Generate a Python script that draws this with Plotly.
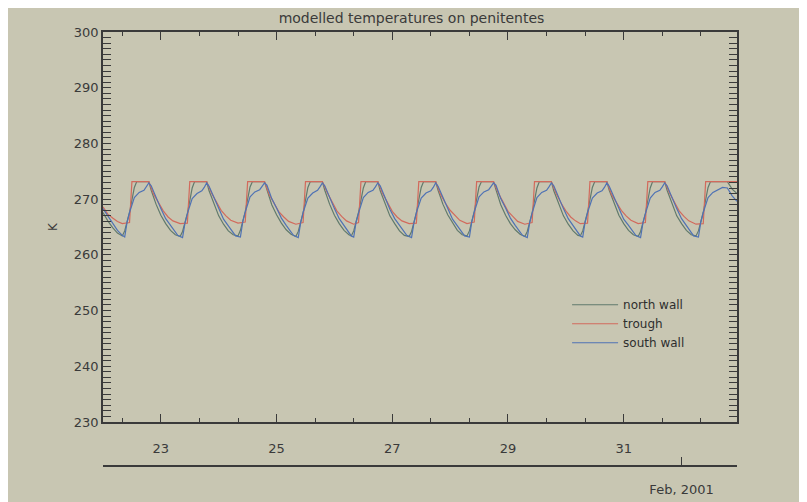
import pandas as pd
import plotly.graph_objects as go

# hours after 2001-01-22 00:00, temperatures in K
trough_hours = [0, 2, 4, 6, 8,
                11, 12, 19, 21, 23, 25, 27, 29, 32,
                35, 36, 43, 45, 47, 49, 51, 53, 56,
                59, 60, 67, 69, 71, 73, 75, 77, 80,
                83, 84, 91, 93, 95, 97, 99, 101, 104,
                106, 107, 114, 116, 118, 120, 122, 124, 127,
                130, 131, 138, 140, 142, 144, 146, 148, 151,
                154, 155, 162, 164, 166, 168, 170, 172, 175,
                178, 179, 186, 188, 190, 192, 194, 196, 198,
                201, 202, 209, 211, 213, 215, 217, 219, 222,
                225, 226, 233, 235, 237, 239, 241, 243, 246,
                249, 250, 263]
trough_K = [268.6, 267.3, 266.6, 266.0, 265.6,
            265.8, 273.15, 273.15, 270.9, 269.3, 267.9, 266.8, 266.1, 265.6,
            265.7, 273.15, 273.15, 271.1, 269.5, 268.0, 267.0, 266.2, 265.7,
            265.9, 273.15, 273.15, 270.8, 269.2, 267.7, 266.8, 266.0, 265.5,
            265.8, 273.15, 273.15, 271.2, 269.6, 267.9, 266.9, 266.1, 265.5,
            265.8, 273.15, 273.15, 271.0, 269.4, 267.8, 266.8, 266.1, 265.6,
            265.7, 273.15, 273.15, 270.9, 269.3, 268.0, 267.0, 266.2, 265.6,
            265.9, 273.15, 273.15, 271.1, 269.5, 267.8, 266.9, 266.0, 265.5,
            265.8, 273.15, 273.15, 271.0, 269.3, 267.9, 266.8, 266.1, 265.6,
            265.7, 273.15, 273.15, 270.8, 269.4, 268.0, 267.0, 266.2, 265.6,
            265.8, 273.15, 273.15, 271.1, 269.5, 267.9, 266.9, 266.1, 265.5,
            265.6, 273.15, 273.15]

north_hours = [0, 2, 4, 6,
               8, 9, 11, 12, 13, 14, 19, 20, 22, 24, 26, 28, 30,
               32, 33, 35, 36, 37, 38, 43, 44, 46, 48, 50, 52, 54,
               56, 57, 59, 60, 61, 62, 67, 68, 70, 72, 74, 76, 78,
               80, 81, 83, 84, 85, 86, 91, 92, 94, 96, 98, 100, 102,
               103, 104, 106, 107, 108, 109, 114, 115, 117, 119, 121, 123, 125,
               127, 128, 130, 131, 132, 133, 138, 139, 141, 143, 145, 147, 149,
               151, 152, 154, 155, 156, 157, 162, 163, 165, 167, 169, 171, 173,
               175, 176, 178, 179, 180, 181, 186, 187, 189, 191, 193, 195, 197,
               198, 199, 201, 202, 203, 204, 209, 210, 212, 214, 216, 218, 220,
               222, 223, 225, 226, 227, 228, 233, 234, 236, 238, 240, 242, 244,
               246, 247, 249, 250, 251, 252, 259, 261, 263]
north_K = [267.6, 266.1, 264.9, 263.9,
           263.4, 264.3, 267.6, 269.9, 272.1, 273.15, 273.15, 271.6, 269.1, 267.1, 265.6, 264.4, 263.6,
           263.3, 264.2, 267.4, 269.8, 272.0, 273.15, 273.15, 271.5, 269.2, 267.0, 265.5, 264.3, 263.6,
           263.4, 264.4, 267.7, 270.0, 272.2, 273.15, 273.15, 271.7, 269.0, 267.2, 265.7, 264.5, 263.7,
           263.3, 264.2, 267.5, 269.9, 272.1, 273.15, 273.15, 271.6, 269.1, 267.1, 265.6, 264.4, 263.6,
           263.4, 264.3, 267.6, 269.8, 272.0, 273.15, 273.15, 271.5, 269.2, 267.0, 265.6, 264.3, 263.5,
           263.3, 264.2, 267.5, 269.9, 272.1, 273.15, 273.15, 271.6, 269.1, 267.2, 265.7, 264.4, 263.6,
           263.4, 264.3, 267.7, 270.0, 272.2, 273.15, 273.15, 271.7, 269.0, 267.1, 265.6, 264.5, 263.7,
           263.3, 264.2, 267.5, 269.8, 272.0, 273.15, 273.15, 271.5, 269.1, 267.0, 265.5, 264.3, 263.5,
           263.4, 264.3, 267.6, 269.9, 272.1, 273.15, 273.15, 271.6, 269.2, 267.1, 265.6, 264.4, 263.6,
           263.3, 264.2, 267.4, 269.8, 272.0, 273.15, 273.15, 271.6, 269.1, 267.0, 265.6, 264.4, 263.6,
           263.4, 264.3, 267.6, 269.9, 272.1, 273.15, 273.15, 271.8, 271.0]

south_hours = [0, 2, 4, 6, 8,
               9, 10, 11, 13, 15, 17, 18, 19, 20, 22, 24, 26, 28, 30, 31,
               33, 34, 35, 37, 39, 41, 42, 43, 44, 46, 48, 50, 52, 54, 55,
               57, 58, 59, 61, 63, 65, 66, 67, 68, 70, 72, 74, 76, 78, 79,
               81, 82, 83, 85, 87, 89, 90, 91, 92, 94, 96, 98, 100, 102, 103,
               104, 105, 106, 108, 110, 112, 113, 114, 115, 117, 119, 121, 123, 125, 126,
               128, 129, 130, 132, 134, 136, 137, 138, 139, 141, 143, 145, 147, 149, 150,
               152, 153, 154, 156, 158, 160, 161, 162, 163, 165, 167, 169, 171, 173, 174,
               176, 177, 178, 180, 182, 184, 185, 186, 187, 189, 191, 193, 195, 197, 198,
               199, 200, 201, 203, 205, 207, 208, 209, 210, 212, 214, 216, 218, 220, 221,
               223, 224, 225, 227, 229, 231, 232, 233, 234, 236, 238, 240, 242, 244, 245,
               247, 248, 249, 251, 253, 255, 257, 259, 261, 263]
south_K = [268.3, 267.0, 265.6, 264.4, 263.5,
           263.2, 265.9, 267.6, 270.3, 271.2, 271.6, 272.2, 272.9, 272.4, 270.2, 268.3, 266.5, 265.3, 264.1, 263.5,
           263.1, 265.7, 267.4, 270.1, 271.0, 271.5, 272.1, 272.9, 272.3, 270.3, 268.2, 266.4, 265.2, 264.0, 263.4,
           263.2, 266.0, 267.7, 270.4, 271.3, 271.7, 272.3, 272.9, 272.5, 270.1, 268.4, 266.6, 265.3, 264.1, 263.5,
           263.1, 265.8, 267.6, 270.2, 271.1, 271.6, 272.2, 272.9, 272.4, 270.2, 268.3, 266.5, 265.2, 264.0, 263.4,
           263.2, 265.9, 267.5, 270.3, 271.2, 271.6, 272.2, 272.9, 272.4, 270.2, 268.2, 266.5, 265.3, 264.1, 263.5,
           263.1, 265.8, 267.6, 270.2, 271.1, 271.5, 272.1, 272.9, 272.3, 270.3, 268.3, 266.4, 265.2, 264.0, 263.4,
           263.2, 266.0, 267.7, 270.4, 271.3, 271.7, 272.3, 272.9, 272.5, 270.1, 268.4, 266.6, 265.3, 264.1, 263.5,
           263.1, 265.8, 267.5, 270.3, 271.2, 271.6, 272.2, 272.9, 272.4, 270.2, 268.3, 266.5, 265.2, 264.0, 263.4,
           263.2, 265.9, 267.6, 270.2, 271.1, 271.5, 272.1, 272.9, 272.3, 270.3, 268.2, 266.4, 265.3, 264.1, 263.5,
           263.1, 265.8, 267.4, 270.2, 271.2, 271.6, 272.2, 272.9, 272.4, 270.2, 268.3, 266.5, 265.2, 264.0, 263.4,
           263.2, 265.9, 267.6, 270.3, 271.2, 271.6, 272.1, 272.0, 270.6, 269.6]

start = pd.Timestamp('2001-01-22')
def to_time(hours):
    return start + pd.to_timedelta(hours, unit='h')

bg = '#c8c6b2'
ink = '#3a3a3a'
font = 'DejaVu Sans'

fig = go.Figure()
fig.add_trace(go.Scatter(x=to_time(north_hours), y=north_K, mode='lines', name='north wall',
                         line=dict(color='#617a6c', width=1.2)))
fig.add_trace(go.Scatter(x=to_time(trough_hours), y=trough_K, mode='lines', name='trough',
                         line=dict(color='#d26a5c', width=1.2)))
fig.add_trace(go.Scatter(x=to_time(south_hours), y=south_K, mode='lines', name='south wall',
                         line=dict(color='#4f72b4', width=1.2)))
# empty trace so the date axis below the plot gets drawn
fig.add_trace(go.Scatter(x=[], y=[], xaxis='x2', showlegend=False, hoverinfo='skip'))

xrange = ['2001-01-22', '2001-02-01 23:00']

# page body adds ~8px offset, margins are set to compensate
fig.update_layout(
    width=807, height=502,
    paper_bgcolor=bg, plot_bgcolor=bg,
    margin=dict(l=95, r=78, t=24, b=44),
    font=dict(family=font, color=ink, size=13),
    title=dict(text='modelled temperatures on penitentes', x=0.5, xanchor='center',
               y=0.979, yanchor='middle', yref='container',
               font=dict(family=font, size=14, color=ink)),
    showlegend=True,
    legend=dict(x=0.732, y=0.405, xanchor='left', yanchor='top', bgcolor='rgba(0,0,0,0)',
                itemwidth=46, font=dict(family=font, size=12, color='#2e2e2e')),
    xaxis=dict(range=xrange, type='date', showline=True, linecolor=ink, linewidth=1.5,
               mirror='allticks', ticks='inside', ticklen=8, tickcolor=ink, tickwidth=1.2,
               tick0='2001-01-23', dtick=2 * 86400000, tickformat='%d',
               ticklabelstandoff=14, showgrid=False, zeroline=False, automargin=False,
               minor=dict(ticks='inside', ticklen=4, tickcolor=ink, tick0='2001-01-22 08:00',
                          dtick=16 * 3600000, showgrid=False)),
    xaxis2=dict(range=xrange, type='date', overlaying='x', anchor='free', position=0,
                side='bottom', showline=True, linecolor=ink, linewidth=1.5,
                ticks='inside', ticklen=8, tickcolor=ink, tickwidth=1.2,
                tickmode='array', tickvals=['2001-02-01'], ticktext=['Feb, 2001'],
                ticklabelstandoff=12, showgrid=False, zeroline=False, automargin=False),
    yaxis=dict(range=[230, 300], domain=[0.1014, 1], showline=True, linecolor=ink, linewidth=1.5,
               mirror='allticks', ticks='inside', ticklen=8, tickcolor=ink, tickwidth=1.2,
               dtick=10, showgrid=False, zeroline=False, automargin=False,
               title=dict(text='K', standoff=14, font=dict(family=font, size=12, color=ink)),
               minor=dict(ticks='inside', ticklen=4, tickcolor=ink, dtick=1, showgrid=False)),
)

fig.write_html('out.html')
